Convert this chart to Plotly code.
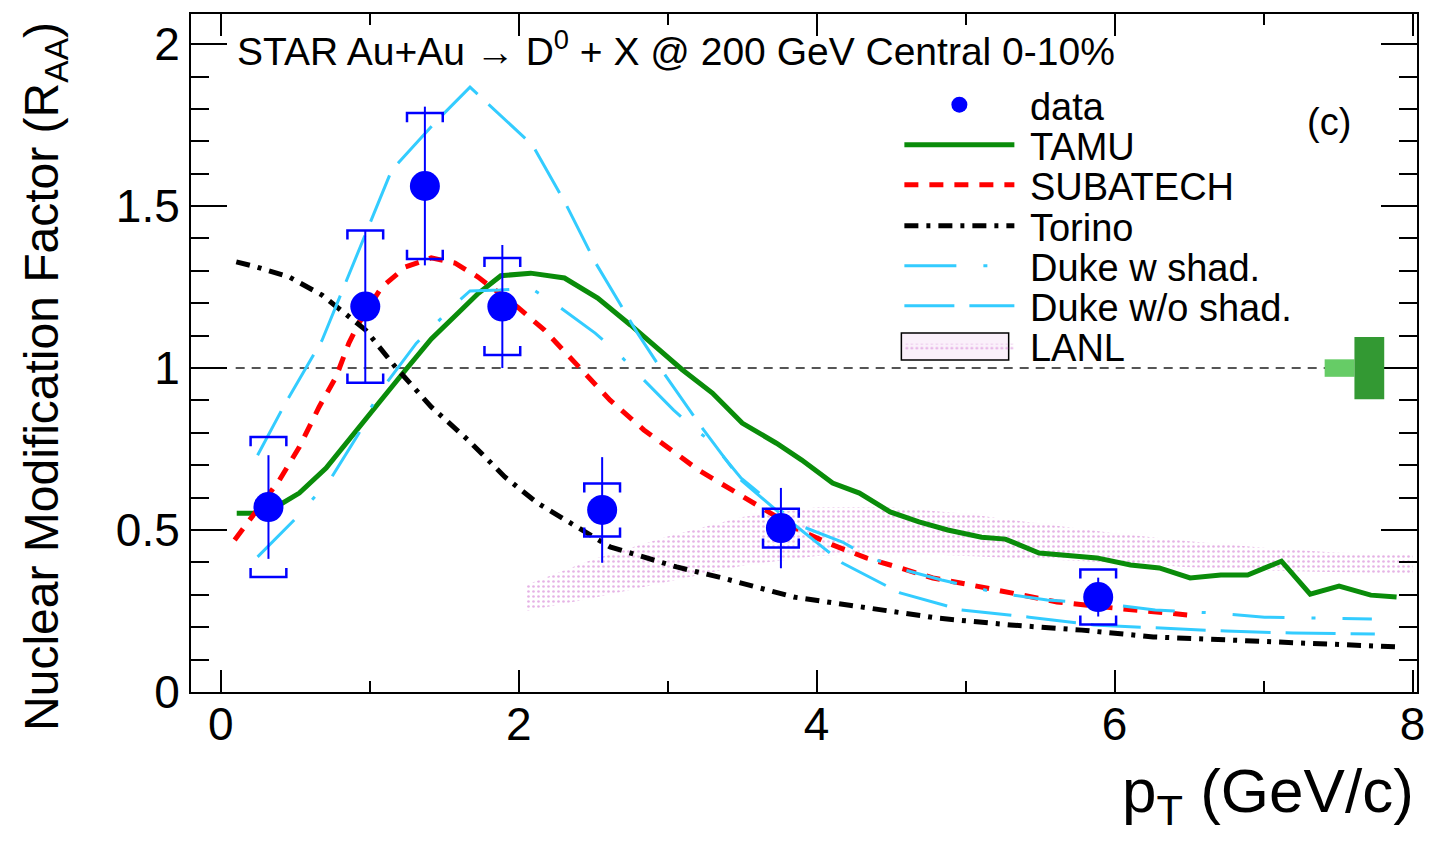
import plotly.graph_objects as go

# ---------------- data ----------------
pt = [0.32, 0.97, 1.37, 1.89, 2.56, 3.76, 5.89]
raa = [0.571, 1.19, 1.562, 1.19, 0.562, 0.506, 0.293]
stat_err = [0.16, 0.235, 0.245, 0.19, 0.163, 0.124, 0.06]
sys_err = [0.216, 0.235, 0.225, 0.15, 0.082, 0.06, 0.085]

tamu_x = [0.107, 0.24, 0.413, 0.527, 0.707, 0.88, 1.06, 1.24, 1.413, 1.593, 1.727, 1.88, 2.08, 2.307,
          2.53, 2.75, 2.93, 3.1, 3.3, 3.5, 3.73, 3.9, 4.107, 4.287, 4.493, 4.687, 4.88, 5.107, 5.267,
          5.493, 5.88, 6.107, 6.3, 6.507, 6.713, 6.893, 7.12, 7.313, 7.507, 7.72, 7.893]
tamu_y = [0.552, 0.552, 0.583, 0.614, 0.691, 0.787, 0.892, 0.994, 1.09, 1.17, 1.23, 1.285, 1.293, 1.278,
          1.216, 1.133, 1.06, 0.994, 0.923, 0.83, 0.768, 0.716, 0.645, 0.614, 0.556, 0.525, 0.5, 0.478, 0.472,
          0.429, 0.414, 0.392, 0.383, 0.352, 0.361, 0.361, 0.404, 0.302, 0.327, 0.299, 0.293]

subatech_x = [0.093, 0.393, 0.527, 0.66, 0.773, 0.86, 0.927, 1.08, 1.24, 1.413, 1.573, 1.727, 1.993,
              2.173, 2.393, 2.613, 2.84, 3.047, 3.207, 3.433, 3.66, 3.88, 4.107, 4.333, 4.56, 4.78,
              5.04, 5.293, 5.613, 5.933, 6.253, 6.487]
subatech_y = [0.469, 0.654, 0.756, 0.88, 0.972, 1.077, 1.139, 1.25, 1.312, 1.34, 1.324, 1.281, 1.188,
              1.117, 1.009, 0.901, 0.809, 0.738, 0.685, 0.623, 0.562, 0.5, 0.454, 0.414, 0.383, 0.352,
              0.33, 0.306, 0.278, 0.262, 0.247, 0.238]

torino_x = [0.104, 0.24, 0.46, 0.68, 0.973, 1.173, 1.413, 1.66, 1.907, 2.127, 2.393, 2.613, 3.06, 3.367,
            3.847, 4.333, 4.813, 5.3, 5.78, 6.26, 6.747, 7.227, 7.907]
torino_y = [1.328, 1.312, 1.281, 1.225, 1.117, 1.003, 0.88, 0.778, 0.664, 0.583, 0.509, 0.448, 0.386,
            0.352, 0.293, 0.259, 0.228, 0.207, 0.191, 0.17, 0.16, 0.151, 0.139]

duke_w_x = [0.247, 0.493, 0.613, 0.74, 0.927, 1.007, 1.113, 1.313, 1.58, 1.673, 1.873, 2.08, 2.24, 2.513,
            2.66, 2.793, 3.04, 3.173, 3.293, 3.493, 3.88, 4.173, 4.327, 4.513, 4.84, 5.213, 5.547, 5.993,
            6.273, 6.66, 7.007, 7.38, 7.727]
duke_w_y = [0.417, 0.531, 0.593, 0.66, 0.799, 0.877, 0.954, 1.077, 1.2, 1.238, 1.241, 1.247, 1.2, 1.108,
            1.049, 0.985, 0.87, 0.815, 0.772, 0.66, 0.515, 0.463, 0.423, 0.386, 0.346, 0.306, 0.284, 0.269,
            0.253, 0.244, 0.231, 0.228, 0.225]

duke_wo_x = [0.247, 0.427, 0.68, 0.88, 1.013, 1.147, 1.44, 1.673, 2.093, 2.313, 2.513, 2.793, 2.973,
             3.227, 3.493, 3.727, 4.173, 4.56, 4.973, 5.427, 5.86, 6.313, 6.747, 7.193, 7.747]
duke_wo_y = [0.731, 0.886, 1.086, 1.312, 1.457, 1.611, 1.759, 1.867, 1.688, 1.509, 1.327, 1.111, 0.985,
             0.818, 0.654, 0.562, 0.398, 0.306, 0.253, 0.231, 0.207, 0.198, 0.188, 0.182, 0.179]

lanl_x = [2.05, 2.5, 3.0, 3.5, 4.0, 4.5, 5.0, 5.5, 6.0, 6.5, 7.0, 7.5, 8.0]
lanl_lo = [0.25, 0.29, 0.34, 0.39, 0.42, 0.43, 0.42, 0.41, 0.40, 0.385, 0.375, 0.37, 0.365]
lanl_hi = [0.33, 0.41, 0.48, 0.54, 0.57, 0.57, 0.55, 0.52, 0.49, 0.465, 0.445, 0.43, 0.425]

# normalisation uncertainties drawn at the right edge (light: Au+Au, dark: p+p)
norm_unc = [0.027, 0.096]
norm_box_x = [[7.41, 7.61], [7.61, 7.81]]
norm_colors = ["#66cc66", "#339933"]
REF_Y = 1.0
REF_X = [0.1, 8.0]

# ---------------- geometry helpers (pixel -> paper) ----------------
W, H = 1436, 847
L, R, T, B = 191, 11, 14, 155
PW, PH = W - L - R, H - T - B


def pxx(p):
    return (p - L) / PW


def pxy(p):
    return (H - B - p) / PH


FONT = "Liberation Sans, Arial, Helvetica, sans-serif"
LEG_FONT = 38
BRACKET_HALF_W = 0.12
BRACKET_TIP = 0.028
PAD = "\u00a0"

fig = go.Figure()

# LANL band
fig.add_trace(go.Scatter(
    x=lanl_x + lanl_x[::-1], y=lanl_hi + lanl_lo[::-1], fill="toself", mode="lines",
    line=dict(width=0, color="rgba(0,0,0,0)"),
    fillcolor="rgba(255,255,255,0)",
    fillpattern=dict(shape=".", fgcolor="#cc66cc", bgcolor="rgba(255,255,255,0)", size=5, solidity=0.22),
    name=PAD + "LANL", legend="legend7"))

fig.add_trace(go.Scatter(x=tamu_x, y=tamu_y, mode="lines", name=PAD + "TAMU",
                         line=dict(color="#0a8c0a", width=5), legend="legend2"))
fig.add_trace(go.Scatter(x=subatech_x, y=subatech_y, mode="lines", name=PAD + "SUBATECH",
                         line=dict(color="#ff0000", width=5, dash="14px,11px"), legend="legend3"))
fig.add_trace(go.Scatter(x=torino_x, y=torino_y, mode="lines", name=PAD + "Torino",
                         line=dict(color="#000000", width=5, dash="14px,8px,4px,8px"), legend="legend4"))
fig.add_trace(go.Scatter(x=duke_w_x, y=duke_w_y, mode="lines", name=PAD + "Duke w shad.",
                         line=dict(color="#33ccff", width=3, dash="52px,27px,4px,27px"), legend="legend5"))
fig.add_trace(go.Scatter(x=duke_wo_x, y=duke_wo_y, mode="lines", name=PAD + "Duke w/o shad.",
                         line=dict(color="#33ccff", width=3, dash="50px,15px"), legend="legend6"))

# systematic brackets
bx, by = [], []
for xi, yi, si in zip(pt, raa, sys_err):
    for sgn in (1, -1):
        yb = yi + sgn * si
        tip = yb - sgn * BRACKET_TIP
        bx += [xi - BRACKET_HALF_W, xi - BRACKET_HALF_W, xi + BRACKET_HALF_W, xi + BRACKET_HALF_W, None]
        by += [tip, yb, yb, tip, None]
fig.add_trace(go.Scatter(x=bx, y=by, mode="lines", line=dict(color="#0000ff", width=2.5),
                         showlegend=False, hoverinfo="skip"))

# data points with stat errors
fig.add_trace(go.Scatter(x=pt, y=raa, mode="markers", name=PAD + "data",
                         marker=dict(color="#0000ff", size=30, symbol="circle"),
                         error_y=dict(type="data", array=stat_err, color="#0000ff", thickness=2, width=0),
                         legend="legend"))

# reference line and normalisation boxes
shapes = [dict(type="line", xref="x", yref="y", x0=REF_X[0], x1=REF_X[1], y0=REF_Y, y1=REF_Y,
               line=dict(color="#555555", width=2, dash="9px,7px"), layer="below")]
for (x0, x1), u, c in zip(norm_box_x, norm_unc, norm_colors):
    shapes.append(dict(type="rect", xref="x", yref="y", x0=x0, x1=x1, y0=REF_Y - u, y1=REF_Y + u,
                       fillcolor=c, line=dict(width=0), layer="above"))

# legends (one per row to reproduce spacing)
LEG_X = 904
row_y = [105, 145, 185, 226, 266, 306, 346]
legends = {}
for i, yy in enumerate(row_y):
    key = "legend" if i == 0 else f"legend{i + 1}"
    legends[key] = dict(x=pxx(LEG_X), y=pxy(yy), xanchor="left", yanchor="middle",
                        font=dict(family=FONT, size=LEG_FONT, color="black"), bgcolor="rgba(0,0,0,0)",
                        itemwidth=110, borderwidth=0, tracegroupgap=0)

# framed key box for the LANL legend entry
shapes.append(dict(type="rect", xref="paper", yref="paper", x0=pxx(906), x1=pxx(1014),
                   y0=pxy(360), y1=pxy(333), fillcolor="rgba(230,170,230,0.18)",
                   line=dict(color="black", width=1.5), layer="above"))

annotations = [
    dict(text="STAR Au+Au \u2192 D<sup>0</sup> + X @ 200 GeV Central 0-10%", x=pxx(235), y=pxy(48),
         xref="paper", yref="paper", xanchor="left", yanchor="middle", showarrow=False,
         font=dict(family=FONT, size=39, color="black")),
    dict(text="(c)", x=pxx(1336), y=pxy(122), xref="paper", yref="paper", xanchor="center",
         yanchor="middle", showarrow=False, font=dict(family=FONT, size=38, color="black")),
    dict(text="Nuclear Modification Factor (R<sub>AA</sub>)", x=pxx(44), y=pxy(376), xref="paper",
         yref="paper", xanchor="center", yanchor="middle", textangle=-90, showarrow=False,
         font=dict(family=FONT, size=48, color="black")),
    dict(text="p<sub>T</sub> (GeV/c)", x=pxx(1424), y=pxy(795), xref="paper", yref="paper",
         xanchor="right", yanchor="middle", showarrow=False, font=dict(family=FONT, size=62, color="black")),
]

fig.update_layout(
    width=W, height=H, margin=dict(l=L, r=R, t=T, b=B, pad=0),
    paper_bgcolor="white", plot_bgcolor="white",
    font=dict(family=FONT, color="black"),
    shapes=shapes, annotations=annotations, **legends,
    xaxis=dict(range=[-0.2, 8.03], tickvals=[0, 2, 4, 6, 8], ticks="inside", ticklen=22, tickwidth=2,
               tickcolor="black", showline=True, linecolor="black", linewidth=2, mirror="ticks",
               showgrid=False, zeroline=False, tickfont=dict(family=FONT, size=46, color="black"),
               ticklabelstandoff=-9,
               minor=dict(dtick=1, ticks="inside", ticklen=11, tickwidth=2, tickcolor="black", showgrid=False)),
    yaxis=dict(range=[0, 2.093], tickvals=[0, 0.5, 1, 1.5, 2], ticktext=["0", "0.5", "1", "1.5", "2"],
               ticks="inside", ticklen=36, tickwidth=2, tickcolor="black", showline=True, linecolor="black",
               linewidth=2, mirror="ticks", showgrid=False, zeroline=False,
               tickfont=dict(family=FONT, size=46, color="black"),
               minor=dict(dtick=0.1, ticks="inside", ticklen=18, tickwidth=2, tickcolor="black", showgrid=False)),
)

fig.write_html("out.html")
